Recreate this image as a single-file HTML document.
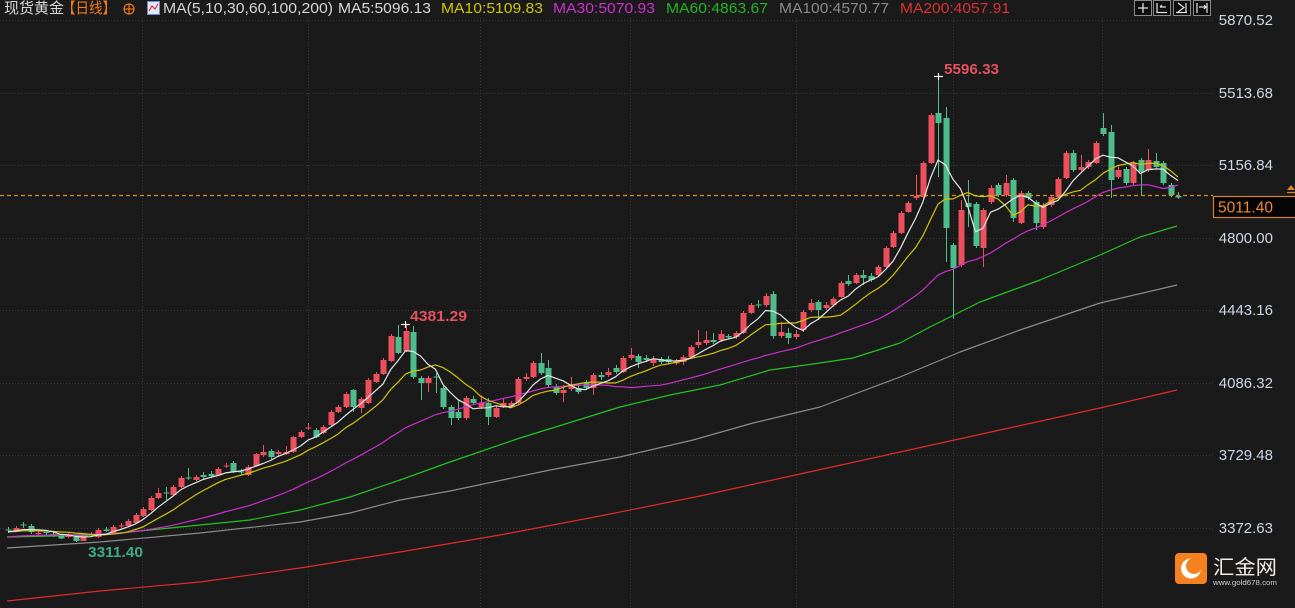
<!DOCTYPE html>
<html><head><meta charset="utf-8">
<style>
html,body{margin:0;padding:0;background:#1a1a1a;}
body{width:1295px;height:608px;overflow:hidden;position:relative;}
svg{position:absolute;left:0;top:0;font-family:"Liberation Sans","Noto Sans CJK SC",sans-serif;}
</style></head><body>
<svg id="c" width="1295" height="608" viewBox="0 0 1295 608" xmlns="http://www.w3.org/2000/svg">
<rect width="1295" height="608" fill="#1a1a1a"/>
<g stroke="#383838" stroke-width="1" stroke-dasharray="1,2" fill="none">
<line x1="0" y1="20.5" x2="1213" y2="20.5"/>
<line x1="0" y1="93.5" x2="1213" y2="93.5"/>
<line x1="0" y1="165.5" x2="1213" y2="165.5"/>
<line x1="0" y1="238.5" x2="1213" y2="238.5"/>
<line x1="0" y1="310.5" x2="1213" y2="310.5"/>
<line x1="0" y1="383.5" x2="1213" y2="383.5"/>
<line x1="0" y1="455.5" x2="1213" y2="455.5"/>
<line x1="0" y1="528.5" x2="1213" y2="528.5"/>
<line x1="142.5" y1="18" x2="142.5" y2="608"/>
<line x1="308.5" y1="18" x2="308.5" y2="608"/>
<line x1="480.5" y1="18" x2="480.5" y2="608"/>
<line x1="630.5" y1="18" x2="630.5" y2="608"/>
<line x1="796.5" y1="18" x2="796.5" y2="608"/>
<line x1="953.5" y1="18" x2="953.5" y2="608"/>
<line x1="1102.5" y1="18" x2="1102.5" y2="608"/>
</g>

<g fill="none" stroke-width="1.2" stroke-linejoin="round">
<polyline stroke="#e22a2a" points="7,601 100,591 200,582 300,568 400,552 500,535 600,516 700,496 800,474 900,452 1000,430 1100,408 1177,390"/>
<polyline stroke="#8c8c8c" points="7,548 100,542 200,533 300,522 350,513 400,500 450,491 550,470 620,457 693,440 753,423 820,407 900,377 960,352 1020,330 1100,303 1177,285"/>
<polyline stroke="#22c322" points="7,537 100,535 150,530 200,525 250,520 300,510 350,497 400,480 450,462 520,438 620,407 670,395 720,385 770,370 820,363 853,358 900,343 930,327 980,302 1040,280 1100,255 1140,237 1177,226"/>
</g>

<g id="candles"></g>

<line x1="0" y1="195.5" x2="1213" y2="195.5" stroke="#e0862a" stroke-width="1.2" stroke-dasharray="4,3"/>

<g id="mas" fill="none" stroke-width="1.2" stroke-linejoin="round"></g>

<!-- high/low markers -->
<g stroke="#f0f0f0" stroke-width="1.2">
<line x1="934" y1="76.5" x2="943" y2="76.5"/>
<line x1="938.5" y1="73" x2="938.5" y2="80"/>
<line x1="401" y1="324.5" x2="410" y2="324.5"/>
<line x1="405.5" y1="321" x2="405.5" y2="328"/>
</g>
<text x="944" y="74" font-size="15" font-weight="bold" fill="#e5505c" textLength="55" lengthAdjust="spacingAndGlyphs">5596.33</text>
<text x="410" y="321" font-size="15" font-weight="bold" fill="#e5505c" textLength="57" lengthAdjust="spacingAndGlyphs">4381.29</text>
<text x="88" y="557" font-size="15" font-weight="bold" fill="#3faa84" textLength="55" lengthAdjust="spacingAndGlyphs">3311.40</text>

<!-- header -->
<g font-size="15">
<text x="4" y="13" fill="#d8d8d8" textLength="60" lengthAdjust="spacingAndGlyphs">现货黄金</text>
<text x="62" y="13" fill="#ee7a1c" textLength="54" lengthAdjust="spacingAndGlyphs">【日线】</text>
<text x="163" y="13" fill="#d4d4d4" textLength="170" lengthAdjust="spacingAndGlyphs">MA(5,10,30,60,100,200)</text>
<text x="338" y="13" fill="#d8d8d8" textLength="93" lengthAdjust="spacingAndGlyphs">MA5:5096.13</text>
<text x="441" y="13" fill="#cfc40a" textLength="102" lengthAdjust="spacingAndGlyphs">MA10:5109.83</text>
<text x="553" y="13" fill="#cc2fcc" textLength="102" lengthAdjust="spacingAndGlyphs">MA30:5070.93</text>
<text x="666" y="13" fill="#22b422" textLength="102" lengthAdjust="spacingAndGlyphs">MA60:4863.67</text>
<text x="779" y="13" fill="#8a8a8a" textLength="110" lengthAdjust="spacingAndGlyphs">MA100:4570.77</text>
<text x="900" y="13" fill="#dc3030" textLength="110" lengthAdjust="spacingAndGlyphs">MA200:4057.91</text>
</g>
<g stroke="#ee7a1c" stroke-width="1.2" fill="none">
<circle cx="129" cy="9" r="5"/>
<line x1="124" y1="9" x2="134" y2="9"/>
<line x1="129" y1="4" x2="129" y2="14"/>
</g>
<rect x="147.5" y="1.5" width="12" height="13" fill="#dfe8f6" stroke="#6a8cc8"/>
<polyline points="149,11 152,6 155,9 158,4" fill="none" stroke="#e03030" stroke-width="1.2"/>

<!-- top right icons -->
<g stroke="#8a8a8a" fill="#0e0e0e">
<rect x="1134.5" y="0.5" width="17" height="15"/>
<rect x="1153.5" y="0.5" width="17" height="15"/>
<rect x="1173.5" y="0.5" width="17" height="15"/>
<rect x="1193.5" y="0.5" width="17" height="15"/>
</g>
<g stroke="#e8e8e8" stroke-width="1.2" fill="none">
<line x1="1138" y1="8" x2="1148" y2="8"/><line x1="1143" y1="3" x2="1143" y2="13"/>
<line x1="1157" y1="3" x2="1157" y2="13"/><line x1="1157" y1="12.5" x2="1167" y2="12.5"/><line x1="1160" y1="7" x2="1166" y2="7"/><line x1="1160" y1="7" x2="1162" y2="5"/>
<polyline points="1178,3 1184,7.5 1178,12"/><line x1="1176" y1="12.5" x2="1187" y2="12.5"/><line x1="1186" y1="3" x2="1186" y2="12"/>
<line x1="1197" y1="3" x2="1197" y2="13"/><line x1="1199" y1="7" x2="1206" y2="7"/><polyline points="1204,5 1206,7 1204,9"/><line x1="1207" y1="3" x2="1207" y2="13"/>
</g>

<!-- y axis labels -->
<g font-size="15" fill="#cdd6e6" text-anchor="end">
<text x="1273" y="25">5870.52</text>
<text x="1273" y="98">5513.68</text>
<text x="1273" y="170">5156.84</text>
<text x="1273" y="243">4800.00</text>
<text x="1273" y="315">4443.16</text>
<text x="1273" y="388">4086.32</text>
<text x="1273" y="460">3729.48</text>
<text x="1273" y="533">3372.63</text>
</g>

<!-- current price -->
<rect x="1213.5" y="196.5" width="85" height="21" fill="#050505" stroke="#d68230" stroke-width="1.2"/>
<text x="1218" y="212.5" font-size="15.5" fill="#f08a2a" textLength="55" lengthAdjust="spacingAndGlyphs">5011.40</text>
<polygon points="1291,185 1295,190 1287,190" fill="#e0862a"/>
<line x1="1287" y1="192.5" x2="1295" y2="192.5" stroke="#e0862a" stroke-width="1.2"/>

<!-- logo -->
<rect x="1175" y="553" width="32" height="31" rx="4" fill="#f5821f"/>
<circle cx="1191" cy="568.5" r="10" fill="#ffffff"/>
<circle cx="1194" cy="566" r="8" fill="#f5821f"/>
<text x="1213" y="574" font-size="20" fill="#f3ece4" textLength="64" lengthAdjust="spacingAndGlyphs">汇金网</text>
<text x="1213" y="585" font-size="7.5" fill="#d0d0d0" textLength="64" lengthAdjust="spacingAndGlyphs">www.gold678.com</text>
</svg>
<script>
const D=[
[529.5,530.5,527,533],[531,528,526,532],[524.5,525.5,522,528],[526,532,524,534],[534,533,531,535],
[532,533,530,535],[534,535.5,532,537],[536,538.5,534,539],[537,534,533,538],[537,541,535,542],
[541,536,534,540.5],[535,534,532,536],[537,530,528,538],[529.5,531,527,532],[533,527,525,534],
[526.5,525.5,523,528],[526,521,519,527],[523,515,513,524],[516,509,507,517],[510,498,496,511],
[498,493,488,499],[492.5,493.5,487,500],[495,487,485,496],[487,478,476,488],[477.5,478.5,468,480],
[480,477,475,481],[475,477,472,479],[474,476,471,478],[475,469,467,476],[466.5,465.5,463,468],
[463,472,461,473],[471.5,472.5,469,475],[475,467,465,476],[466,454,453,467],[455,452,445,457],
[451,457,449,459],[454,452,450,456],[454,452,446,455],[452,437,436,453],[437,432,430,438],
[428.5,427.5,423,430],[430,437,428,438],[433,427,425,434],[425,412,410,426],[412,407,405,413],
[407,394,392,408],[390,407,389,412],[408,399,397,413],[403,380,378,404],[382,374,372,383],
[374,360,358,375],[361,336,334,362],[337,353,325,354],[351,331,324,352],[332,377,326,379],
[378,383,376,400],[383,378,376,392],[376.5,377.5,373,393],[388,407,386,409],[407,418,405,425],
[412,418,400,420],[418,398,396,420],[399,403,396,405],[407,403,395,409],[403,417,398,425],
[417,408,405,418],[406,403,399,408],[407,403,401,408],[403,379,377,405],[379,377,373,381],
[377,363,361,378],[363,373,353,375],[368,385,360,387],[387,393,384,395],[393,390,385,402],
[389,385,377,391],[388,392,384,394],[383,388,380,390],[388,375,373,395],[375,377,372,380],
[375,372,368,377],[368,372,365,374],[372,358,356,373],[358,355,348,360],[356,362,354,368],
[358,360,355,362],[363,359,356,366],[359,362,357,364],[359,362,356,364],[363.5,361.5,359,365],
[362,357,355,365],[357,347,345,358],[345,342,330,348],[343,340,331,345],[340,342,333,344],
[340,334,330,342],[336,337.5,334,339],[337,333,331,339],[333,313,311,334],[313,305,303,314],
[304.5,305.5,300,308],[305,296,293,307],[294,336,291,339],[336,332,322,338],[333,338,328,344],
[337,334,330,339],[330,312,310,332],[310,303,299,312],[302,310,300,320],[308,305,302,310],
[305,299,297,307],[297,283,281,298],[281,284,275,286],[283,275,273,284],[275,278,270,285],
[276,280,273,282],[275,267,265,277],[267,248,246,268],[247,233,231,248],[233,213,211,234],
[212,203,201,213],[198,196,175,200],[197,163,161,198],[163,115,113,164],[113,123,76,177],
[118,228,107,262],[245,268,243,319],[265,210,200,267],[203,207,180,227],[204,246,202,248],
[248,210,208,267],[202,188,185,204],[185,195,183,197],[195,183,175,197],[180,218,178,222],
[223,193,191,224],[193,198,191,200],[202,223,200,230],[227,205,203,229],[205,197,195,207],
[197,179,177,198],[178,153,151,179],[153,170,150,172],[170,167,155,172],[167,162,160,169],
[163,143,141,164],[128,134,113,136],[132,180,125,198],[177,170,165,179],[169,183,167,185],
[183,163,161,185],[160,172,158,195],[170,160,149,172],[161,167,153,169],[163,183,161,185],
[185,195,183,197],[196,197.5,192,199]
];
(function(){
  let h='';
  D.forEach(function(d,i){
    const x=Math.round(8+7.5*i);
    const o=d[0],c=d[1],hi=d[2],lo=d[3];
    const up=c<o;
    const col=up?'#ee4f5c':'#4dbd8b';
    const top=Math.min(o,c), bh=Math.max(1,Math.abs(o-c));
    h+='<rect x="'+x+'" y="'+hi+'" width="1" height="'+(lo-hi)+'" fill="'+col+'"/>';
    h+='<rect x="'+(x-2.5)+'" y="'+top+'" width="6" height="'+bh+'" fill="'+col+'"/>';
  });
  document.getElementById('candles').innerHTML=h;
  const C=[];
  for(let j=0;j<30;j++) C.push(j<19?540:532);
  D.forEach(function(d){C.push(d[1]);});
  function ma(n){
    const pts=[];
    for(let i=0;i<D.length;i++){
      let s=0;
      for(let k=0;k<n;k++) s+=C[30+i-k];
      pts.push((8+7.5*i).toFixed(1)+','+(s/n).toFixed(1));
    }
    return pts.join(' ');
  }
  let m='';
  m+='<polyline stroke="#cc2fcc" points="'+ma(30)+'"/>';
  m+='<polyline stroke="#cfc40a" points="'+ma(10)+'"/>';
  m+='<polyline stroke="#e6e6e6" points="'+ma(5)+'"/>';
  document.getElementById('mas').innerHTML=m;
})();
</script>
</body></html>
